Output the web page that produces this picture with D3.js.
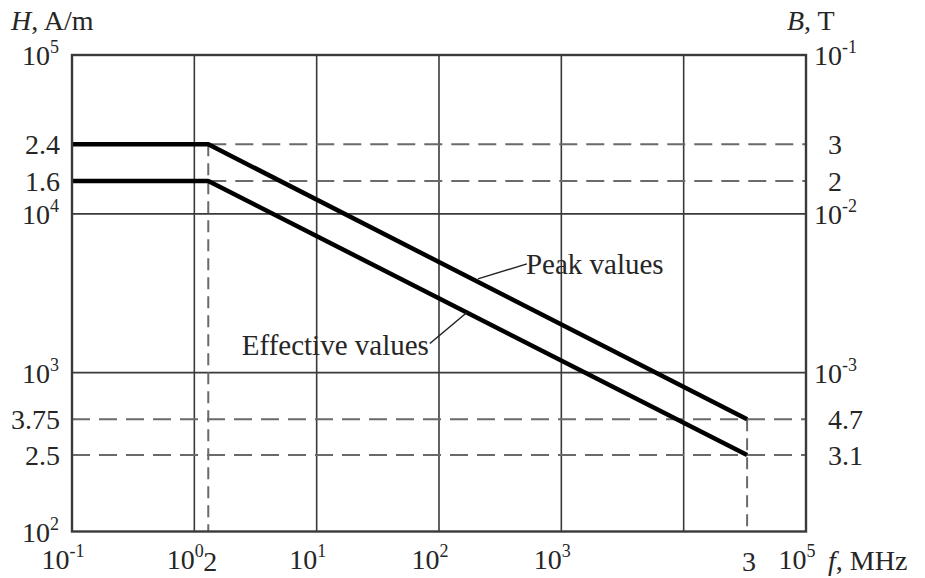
<!DOCTYPE html>
<html>
<head>
<meta charset="utf-8">
<script src="https://cdn.jsdelivr.net/npm/d3@7"></script>
<style>
  html, body { margin: 0; padding: 0; background: #fff; }
  svg { display: block; }
  text { font-family: "Liberation Serif", "DejaVu Serif", serif; fill: #262626; }
</style>
</head>
<body>
<script>
// ---------- data ----------
const freqPoints   = [0.1, 1.3, 33000];          // f, MHz (start, knee, end)
const peakH        = [27400, 27400, 509];         // H, A/m  peak values
const effectiveH   = [16100, 16100, 303];         // H, A/m  effective values
const hDecadeTicks = [1e2, 1e3, 1e4, 1e5];
const bDecadeExps  = ["-4", "-3", "-2", "-1"];    // B, T decade exponents matching hDecadeTicks
const fDecadeTicks = [1e-1, 1e0, 1e1, 1e2, 1e3, 1e5];
const hMarkLabels  = ["2.4", "1.6", "3.75", "2.5"];   // for peakH[1], effectiveH[1], peakH[2], effectiveH[2]
const bMarkLabels  = ["3", "2", "4.7", "3.1"];
const fMarkLabels  = ["2", "3"];                       // for freqPoints[1], freqPoints[2]
const annotations  = [
  { text: "Peak values", series: "peak", f: 208 },
  { text: "Effective values", series: "effective", f: 169 }
];

// ---------- layout ----------
const W = 925, H = 578;
const L = 72, R = 806, T = 55, B = 531.5;

const svg = d3.select("body").append("svg").attr("width", W).attr("height", H);

const x = d3.scaleLog().domain([1e-1, 1e5]).range([L, R]);
const y = d3.scaleLog().domain([1e2, 1e5]).range([B, T]);

const gridColor = "#3a3a3a";
const dashColor = "#6a6a6a";

// gridlines
const g = svg.append("g");
g.selectAll(".vgrid").data([1e0, 1e1, 1e2, 1e3, 1e4]).join("line")
  .attr("x1", d => x(d)).attr("x2", d => x(d)).attr("y1", T).attr("y2", B)
  .attr("stroke", gridColor).attr("stroke-width", 1.6);
g.selectAll(".hgrid").data([1e3, 1e4]).join("line")
  .attr("x1", L).attr("x2", R).attr("y1", d => y(d)).attr("y2", d => y(d))
  .attr("stroke", gridColor).attr("stroke-width", 1.6);

// dashed guide lines
const dashes = [
  { x1: freqPoints[1], x2: 1e5, y1: peakH[1], y2: peakH[1], v: false },
  { x1: freqPoints[1], x2: 1e5, y1: effectiveH[1], y2: effectiveH[1], v: false },
  { x1: 1e-1, x2: 1e5, y1: peakH[2], y2: peakH[2], v: false },
  { x1: 1e-1, x2: 1e5, y1: effectiveH[2], y2: effectiveH[2], v: false },
  { x1: freqPoints[1], x2: freqPoints[1], y1: peakH[1], y2: 1e2, v: true },
  { x1: freqPoints[2], x2: freqPoints[2], y1: peakH[2], y2: 1e2, v: true }
];
g.selectAll(".dash").data(dashes).join("line")
  .attr("x1", d => x(d.x1)).attr("x2", d => x(d.x2))
  .attr("y1", d => y(d.y1)).attr("y2", d => y(d.y2))
  .attr("stroke", dashColor).attr("stroke-width", 2)
  .attr("stroke-dasharray", d => d.v ? "12,7" : "18,9");

// data lines
const series = {
  peak: freqPoints.map((f, i) => ({ f, h: peakH[i] })),
  effective: freqPoints.map((f, i) => ({ f, h: effectiveH[i] }))
};
const line = d3.line().x(d => x(d.f)).y(d => y(d.h));
svg.selectAll(".series").data(Object.values(series)).join("path")
  .attr("d", line).attr("fill", "none")
  .attr("stroke", "#000").attr("stroke-width", 4.5)
  .attr("stroke-linejoin", "round");

// frame
svg.append("rect").attr("x", L).attr("y", T).attr("width", R - L).attr("height", B - T)
  .attr("fill", "none").attr("stroke", gridColor).attr("stroke-width", 2.4);

// ---------- text helpers ----------
const FS = 28, SUP = 18;
function pow10(sel, exp) {
  sel.append("tspan").text("10");
  sel.append("tspan").attr("dy", -12).attr("font-size", SUP).text(exp);
}

// left axis labels
hDecadeTicks.forEach(v => {
  const t = svg.append("text").attr("x", 59).attr("y", y(v) + 10)
    .attr("text-anchor", "end").attr("font-size", FS);
  pow10(t, String(Math.round(Math.log10(v))));
});
const hMarkValues = [peakH[1], effectiveH[1], peakH[2], effectiveH[2]];
hMarkValues.forEach((v, i) => {
  svg.append("text").attr("x", 60).attr("y", y(v) + 10)
    .attr("text-anchor", "end").attr("font-size", FS).text(hMarkLabels[i]);
});

// right axis labels
hDecadeTicks.forEach((v, i) => {
  if (v === 1e2) return;
  const t = svg.append("text").attr("x", 814).attr("y", y(v) + 10)
    .attr("text-anchor", "start").attr("font-size", FS);
  pow10(t, bDecadeExps[i]);
});
hMarkValues.forEach((v, i) => {
  svg.append("text").attr("x", 828).attr("y", y(v) + 10)
    .attr("text-anchor", "start").attr("font-size", FS).text(bMarkLabels[i]);
});

// bottom axis labels
fDecadeTicks.forEach(v => {
  const t = svg.append("text").attr("x", x(v) - 9).attr("y", 569)
    .attr("text-anchor", "middle").attr("font-size", FS);
  pow10(t, String(Math.round(Math.log10(v))));
});
[freqPoints[1], freqPoints[2]].forEach((v, i) => {
  svg.append("text").attr("x", x(v) + 2).attr("y", 571)
    .attr("text-anchor", "middle").attr("font-size", FS).text(fMarkLabels[i]);
});

// axis titles
const tH = svg.append("text").attr("x", 11).attr("y", 30).attr("font-size", FS);
tH.append("tspan").attr("font-style", "italic").text("H");
tH.append("tspan").text(", A/m");
const tB = svg.append("text").attr("x", 787).attr("y", 30).attr("font-size", FS);
tB.append("tspan").attr("font-style", "italic").text("B");
tB.append("tspan").text(", T");
const tF = svg.append("text").attr("x", 828).attr("y", 570).attr("font-size", FS);
tF.append("tspan").attr("font-style", "italic").text("f");
tF.append("tspan").text(", MHz");

// annotations
function hOnSeries(name, f) {
  const pts = series[name];
  for (let i = 0; i < pts.length - 1; i++) {
    const a = pts[i], b = pts[i + 1];
    if (f >= a.f && f <= b.f) {
      const t = (Math.log10(f) - Math.log10(a.f)) / (Math.log10(b.f) - Math.log10(a.f));
      return Math.pow(10, Math.log10(a.h) + t * (Math.log10(b.h) - Math.log10(a.h)));
    }
  }
  return pts[pts.length - 1].h;
}
annotations.forEach(a => {
  const px = x(a.f), py = y(hOnSeries(a.series, a.f)) - 3;
  if (a.series === "peak") {
    const ex = px + 49, ey = py - 15;
    svg.append("line").attr("x1", px).attr("y1", py).attr("x2", ex).attr("y2", ey)
      .attr("stroke", "#222").attr("stroke-width", 1.5);
    svg.append("text").attr("x", ex - 1).attr("y", ey + 10).attr("font-size", 29)
      .attr("text-anchor", "start").text(a.text);
  } else {
    const ex = px - 37, ey = py + 34;
    svg.append("line").attr("x1", px).attr("y1", py + 3).attr("x2", ex).attr("y2", ey)
      .attr("stroke", "#222").attr("stroke-width", 1.5);
    svg.append("text").attr("x", ex - 1).attr("y", ey + 11).attr("font-size", 29)
      .attr("text-anchor", "end").text(a.text);
  }
});
</script>
</body>
</html>
